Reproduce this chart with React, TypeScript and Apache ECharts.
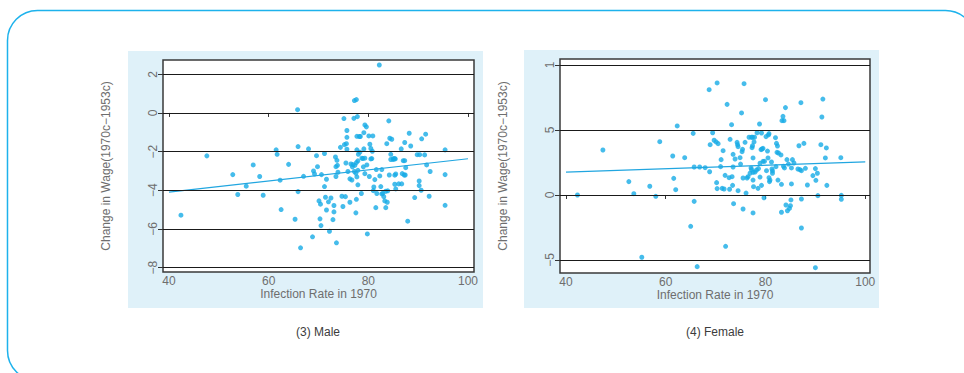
import React, { useEffect, useRef } from "react";
import * as echarts from "echarts";

const maleX = [42.4,47.6,52.8,53.8,55.5,56.9,58.2,58.9,61.5,61.7,62.3,62.5,64.0,65.3,65.8,65.9,65.9,66.4,67.0,68.0,68.8,69.0,69.2,69.6,69.8,70.1,70.3,70.4,70.5,70.6,71.2,71.2,71.4,71.6,71.6,72.0,72.2,72.5,72.9,73.1,73.1,73.4,73.5,73.5,73.6,73.7,73.8,73.9,74.4,74.7,74.9,75.1,75.2,75.4,75.5,75.6,75.7,75.7,75.7,75.9,76.3,76.3,76.5,76.7,76.8,76.9,77.1,77.2,77.2,77.3,77.5,77.5,77.6,77.6,77.6,77.7,77.7,77.7,77.8,77.9,77.9,77.9,78.0,78.2,78.3,78.4,78.6,78.7,78.9,79.0,79.1,79.1,79.3,79.3,79.3,79.6,79.7,79.8,80.1,80.2,80.3,80.5,80.5,80.7,80.8,80.9,81.0,81.1,81.3,81.5,81.6,81.7,82.2,82.3,82.5,82.7,82.7,82.9,83.1,83.3,83.5,83.5,83.7,83.8,83.9,84.1,84.2,84.3,84.5,84.5,84.7,85.0,85.0,85.3,85.3,85.3,85.4,85.5,85.5,86.1,86.6,86.7,86.8,87.0,87.2,87.3,87.3,87.4,87.5,87.9,88.2,88.5,89.3,89.8,90.2,90.3,90.2,90.6,90.7,91.3,91.5,91.7,92.2,92.4,95.4,95.4,95.4];
const maleY = [-5.29,-2.22,-3.19,-4.22,-3.79,-2.69,-3.29,-4.26,-1.91,-2.14,-3.48,-5.0,-2.66,-5.5,0.17,-1.74,-4.07,-6.98,-3.28,-1.86,-6.41,-3.0,-3.16,-2.21,-2.78,-4.55,-5.48,-4.72,-5.83,-3.19,-2.10,-3.81,-4.36,-3.43,-5.02,-4.6,-6.12,-4.40,-5.52,-4.79,-5.12,-2.28,-2.78,-3.29,-6.72,-2.45,-2.71,-3.07,-1.78,-4.31,-4.84,-0.29,-1.64,-4.33,-2.59,-1.59,-0.91,-1.88,-1.26,-3.03,-4.62,-3.41,-2.64,-3.47,-2.79,-2.67,-0.28,0.64,-3.03,-2.71,-5.17,-3.12,-2.57,-4.47,0.69,-1.21,-1.91,-3.31,-0.19,-2.48,-3.72,-2.97,-2.14,-1.22,-2.03,-1.22,-4.17,-2.34,-2.36,-2.79,-1.02,-1.86,-3.14,-0.62,-2.34,-0.72,-2.69,-6.26,-1.19,-3.29,-1.62,-1.84,-2.38,-2.36,-1.98,-1.19,-4.02,-3.83,-3.45,-4.9,-2.93,-4.17,2.48,-3.26,-3.81,-4.19,-2.93,-4.16,-4.33,-4.55,-4.9,-4.05,-1.59,-4.62,-4.03,-0.41,-3.21,-1.31,-2.14,-2.41,-1.36,-2.36,-2.41,-2.36,-3.22,-3.69,-2.38,-3.16,-3.93,-3.67,-1.86,-3.67,-3.14,-2.47,-3.21,-1.53,-2.47,-3.21,-2.83,-5.6,-1.05,-1.71,-4.38,-2.16,-3.52,-2.16,-3.76,-4.0,-1.34,-2.17,-1.10,-2.69,-4.31,-3.03,-1.91,-3.19,-4.78];
const maleFitX = [40, 100];
const maleFitY = [-4.1, -2.37];

const femaleX = [42.3,47.4,52.6,53.6,55.2,56.8,58.0,58.8,61.4,61.6,62.0,62.3,63.8,65.0,65.5,65.7,65.7,66.3,66.8,67.9,68.7,68.8,68.9,69.4,69.7,70.1,70.2,70.3,70.3,70.5,71.0,71.1,71.3,71.5,71.7,71.9,72.0,72.3,72.7,72.8,72.9,73.2,73.3,73.4,73.5,73.5,73.6,73.9,74.3,74.4,74.5,74.5,74.9,75.0,75.2,75.3,75.4,75.5,75.5,75.7,75.9,76.1,76.3,76.5,76.7,76.9,77.1,77.2,77.2,77.3,77.4,77.4,77.5,77.5,77.5,77.5,77.6,77.7,77.8,77.9,78.2,78.3,78.5,78.6,78.8,78.9,78.9,79.1,79.2,79.2,79.3,79.5,79.5,79.7,79.8,80.0,80.1,80.2,80.4,80.5,80.6,80.7,80.7,80.8,80.9,81.2,81.3,81.4,81.4,82.0,82.1,82.2,82.3,82.4,82.5,82.6,83.1,83.2,83.2,83.3,83.5,83.7,83.6,83.8,84.0,84.1,84.3,84.4,84.6,84.8,85.0,85.1,85.2,85.2,85.4,85.7,86.5,86.7,86.9,87.1,87.2,87.2,87.2,87.7,88.0,88.4,89.5,90.0,90.0,90.1,90.4,90.5,91.1,91.3,91.5,92.0,92.2,92.3,95.1,95.2,95.2];
const femaleY = [0,3.46,1.03,0.10,-4.79,0.67,-0.10,4.10,3.0,1.28,0.41,5.31,2.87,-2.41,4.74,-0.49,2.15,-5.51,2.15,2.10,8.10,1.79,3.87,4.79,4.21,4.08,0.95,0.49,8.62,3.95,2.18,2.72,0.51,3.41,0.46,1.51,-3.95,6.97,1.33,0.44,4.28,5.41,1.41,0.74,3.13,2.15,-0.67,2.77,4.05,3.87,3.72,0.33,2.87,2.38,6.31,3.33,3.51,-1.08,1.31,8.56,4.05,0.15,1.31,1.41,4.44,1.67,2.08,4.44,1.95,3.64,3.79,4.44,1.15,1.74,2.85,-1.38,0.64,4.08,4.44,1.77,1.92,4.79,0.51,2.03,5.46,2.44,1.38,3.49,4.77,0.74,3.54,3.59,2.59,-0.21,2.59,7.33,4.49,1.87,3.38,2.85,4.62,4.72,1.33,1.03,1.15,2.54,2.0,1.67,1.85,4.41,2.18,3.97,3.28,3.77,1.15,3.23,3.08,0.82,-1.33,5.72,6.05,5.72,2.21,2.08,6.72,-0.77,2.72,-1.21,2.38,-1.03,-0.82,-0.38,0.85,2.08,2.72,2.46,2.0,3.79,1.95,7.1,-0.31,-2.54,1.87,3.97,2.05,0.77,1.49,2.03,-5.59,1.13,1.67,-0.05,3.87,6.0,7.38,2.85,3.62,0.74,2.87,-0.03,-0.33];
const femaleFitX = [40, 100];
const femaleFitY = [1.76, 2.55];

const xTicks = [40, 60, 80, 100];
const maleYTicks = [-8, -6, -4, -2, 0, 2];
const maleYTickLabels = ["\u22128", "\u22126", "\u22124", "\u22122", "0", "2"];
const femaleYTicks = [-5, 0, 5, 10];
const femaleYTickLabels = ["\u22125", "0", "5", "1"];

const xName = "Infection Rate in 1970";
const yName = "Change in Wage(1970c\u22121953c)";
const captions = ["(3) Male", "(4) Female"];

const FONT = "Liberation Sans, Arial, sans-serif";
const TXT = "#6e6e6e";
const DOT = "#17abe6";

const zip = (a: number[], b: number[]) => a.slice(0, Math.min(a.length, b.length)).map((v, i) => [v, b[i]]);

function makeX(gridIndex: number, min: number, max: number) {
  return {
    type: "value", gridIndex, min, max,
    name: xName, nameLocation: "middle", nameGap: 16, nameMoveOverlap: false,
    nameTextStyle: { color: TXT, fontSize: 12, fontFamily: FONT },
    axisLine: { show: false },
    axisTick: { show: true, length: 4, customValues: xTicks, lineStyle: { color: "#333" } },
    axisLabel: { customValues: xTicks, margin: 3, color: TXT, fontSize: 12, fontFamily: FONT },
    splitLine: { show: false },
  };
}

function makeY(gridIndex: number, min: number, max: number, ticks: number[], labels: string[]) {
  return {
    type: "value", gridIndex, min, max,
    name: yName, nameLocation: "middle", nameGap: 51, nameMoveOverlap: false,
    nameTextStyle: { color: TXT, fontSize: 12, fontFamily: FONT },
    axisLine: { show: false },
    axisTick: { show: true, length: 5, customValues: ticks, lineStyle: { color: "#333" } },
    axisLabel: {
      customValues: ticks, rotate: 90, margin: 4, color: TXT, fontSize: 12, fontFamily: FONT,
      formatter: (v: number) => { const i = ticks.indexOf(v); return i >= 0 ? labels[i] : ""; },
    },
    splitLine: { show: false },
  };
}

function gridLines(xi: number, ticks: number[]) {
  return {
    type: "scatter", xAxisIndex: xi, yAxisIndex: xi, data: [], z: 1, silent: true,
    markLine: {
      silent: true, symbol: "none", label: { show: false },
      lineStyle: { color: "#1a1a1a", width: 1, type: "solid" },
      data: ticks.map((t) => ({ yAxis: t })),
    },
  };
}

export default function App() {
  const ref = useRef<HTMLDivElement>(null);
  useEffect(() => {
    if (!ref.current) return;
    const chart = echarts.init(ref.current, undefined, { renderer: "svg" });
    chart.setOption({
      animation: false,
      backgroundColor: "#ffffff",
      graphic: [
        { type: "rect", z: -10, shape: { x: 7.5, y: 10.5, width: 968, height: 370, r: 30 }, style: { fill: "none", stroke: "#1db2ec", lineWidth: 1.5 } },
        { type: "rect", z: -10, shape: { x: 128, y: 51, width: 355, height: 257 }, style: { fill: "#dff1f9" } },
        { type: "rect", z: -10, shape: { x: 524, y: 50, width: 355, height: 258 }, style: { fill: "#dff1f9" } },
        { type: "text", x: 318, y: 332, style: { text: captions[0], align: "center", verticalAlign: "middle", fill: "#3c3c3c", fontSize: 12, fontFamily: FONT } },
        { type: "text", x: 715, y: 332, style: { text: captions[1], align: "center", verticalAlign: "middle", fill: "#3c3c3c", fontSize: 12, fontFamily: FONT } },
      ],
      grid: [
        { left: 163, top: 60, width: 311, height: 212, show: true, backgroundColor: "#ffffff", borderColor: "#3a3a3a", borderWidth: 1.5 },
        { left: 560, top: 59, width: 310, height: 214, show: true, backgroundColor: "#ffffff", borderColor: "#3a3a3a", borderWidth: 1.5 },
      ],
      xAxis: [makeX(0, 38.8, 101.2), makeX(1, 38.8, 100.95)],
      yAxis: [
        makeY(0, -8.23, 2.74, maleYTicks, maleYTickLabels),
        makeY(1, -6.0, 10.46, femaleYTicks, femaleYTickLabels),
      ],
      series: [
        gridLines(0, maleYTicks),
        gridLines(1, femaleYTicks),
        { type: "scatter", xAxisIndex: 0, yAxisIndex: 0, z: 3, symbolSize: 5, itemStyle: { color: DOT }, data: zip(maleX, maleY) },
        { type: "line", xAxisIndex: 0, yAxisIndex: 0, z: 4, showSymbol: false, lineStyle: { color: "#21a6e0", width: 1.2 }, data: zip(maleFitX, maleFitY) },
        { type: "scatter", xAxisIndex: 1, yAxisIndex: 1, z: 3, symbolSize: 5, itemStyle: { color: DOT }, data: zip(femaleX, femaleY) },
        { type: "line", xAxisIndex: 1, yAxisIndex: 1, z: 4, showSymbol: false, lineStyle: { color: "#21a6e0", width: 1.2 }, data: zip(femaleFitX, femaleFitY) },
      ],
    });
    return () => chart.dispose();
  }, []);
  return <div ref={ref} style={{ position: "fixed", left: 0, top: 0, width: 964, height: 373 }} />;
}
